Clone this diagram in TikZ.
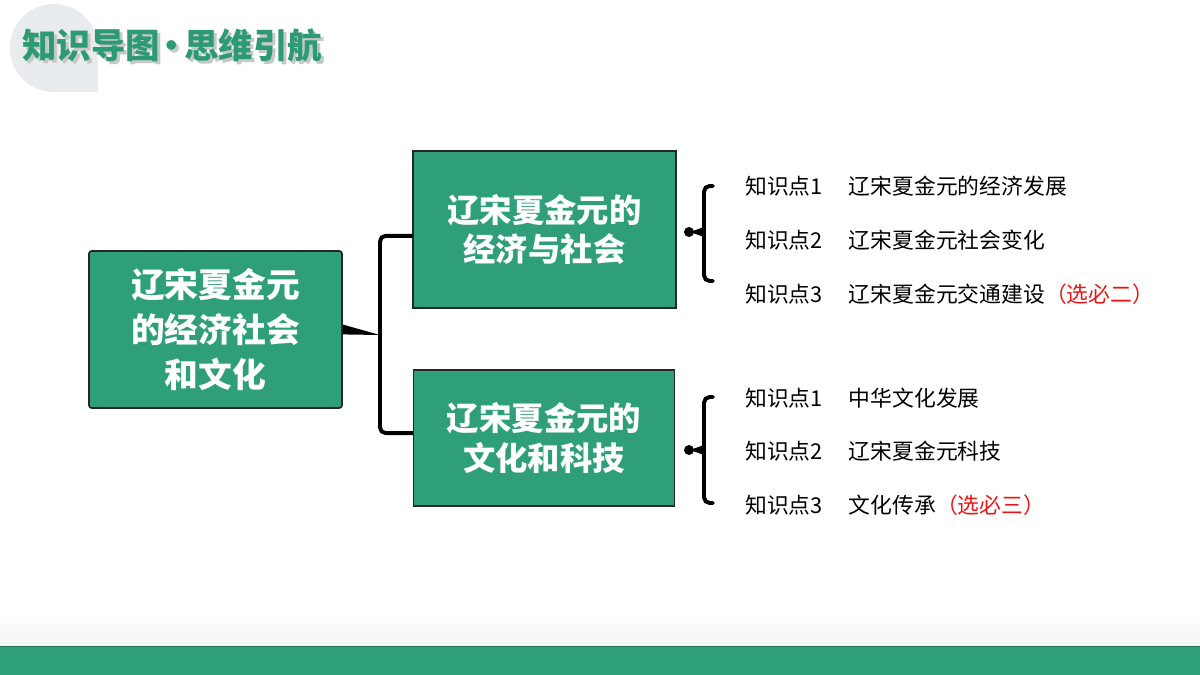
\documentclass[tikz,border=0pt]{standalone}
\usepackage{fontspec}
\setmainfont{Noto Sans CJK SC}
\definecolor{boxgreen}{RGB}{47,159,122}
\definecolor{titlegreen}{RGB}{44,155,115}
\definecolor{decogray}{RGB}{232,236,238}
\definecolor{notered}{RGB}{235,20,20}

\begin{document}
\begin{tikzpicture}[x=0.025cm, y=-0.025cm,
  topic/.style={rectangle, draw=black!85, thick, fill=boxgreen, align=center,
                text=white, inner sep=0pt,
                font=\fontsize{23}{28}\selectfont\bfseries},
  root/.style={topic, rounded corners=2pt, line width=1.2pt,
               font=\fontsize{24}{32}\selectfont\bfseries},
  point/.style={anchor=west, inner sep=0pt, font=\fontsize{15.5}{18}\selectfont},
  headline/.style={anchor=west, inner sep=0pt,
                   font=\fontsize{24.5}{28}\selectfont\bfseries},
  link/.style={line width=2.8pt, rounded corners=4pt},
  brace/.style={line width=2.8pt, rounded corners=4pt, line cap=round}
]
\useasboundingbox (0,0) rectangle (1200,675);

% background
\shade[top color=white, bottom color=black!4] (0,610) rectangle (1200,646);
\fill[boxgreen] (0,646) rectangle (1200,675);
\draw[boxgreen!70!black, line width=1pt] (0,646.5) -- (1200,646.5);

% title
\fill[decogray] (54,48) circle (44);
\fill[decogray] (54,48) rectangle (98,92);
\node[headline, text=black!22] (tshadow) at (25,48)
      {知识导图\kern-0.15em•\kern-0.15em思维引航};
\node[headline, text=titlegreen] (title) at (22,45)
      {知识导图\kern-0.15em•\kern-0.15em思维引航};

% boxes
\node[root, minimum width=6.325cm, minimum height=3.925cm]
      (root) at (215.5,329.5) {辽宋夏金元\\的经济社会\\和文化};
\node[topic, minimum width=6.575cm, minimum height=3.925cm]
      (econ) at (544.5,229.5) {辽宋夏金元的\\经济与社会};
\node[topic, minimum width=6.525cm, minimum height=3.4cm]
      (cult) at (544,438) {辽宋夏金元的\\文化和科技};

% connectors
\coordinate (j) at (380,335);
\fill ([yshift=3.5pt]root.east) -- (j) -- ([yshift=-3.5pt]root.east) -- cycle;
\draw[link] ([yshift=-4.5pt]econ.west) -| (j) |- ([yshift=3.5pt]cult.west);

% braces
\foreach \yt/\yk/\yb in {186/232/281, 397/450/503} {
  \draw[brace] (713,\yt) -- (704,\yt) -- (704,\yb) -- (713,\yb);
  \fill (704,\yk-5) -- (690,\yk) -- (704,\yk+5) -- cycle;
  \fill (689,\yk) circle (5);
}

% points
\node[point] (p11) at (745,186) {知识点1\hspace{1.2em}辽宋夏金元的经济发展};
\node[point] (p12) at (745,240) {知识点2\hspace{1.2em}辽宋夏金元社会变化};
\node[point] (p13) at (745,294) {知识点3\hspace{1.2em}辽宋夏金元交通建设{\color{notered}（选必二）}};
\node[point] (p21) at (745,398) {知识点1\hspace{1.2em}中华文化发展};
\node[point] (p22) at (745,451) {知识点2\hspace{1.2em}辽宋夏金元科技};
\node[point] (p23) at (745,505) {知识点3\hspace{1.2em}文化传承{\color{notered}（选必三）}};

\end{tikzpicture}
\end{document}
